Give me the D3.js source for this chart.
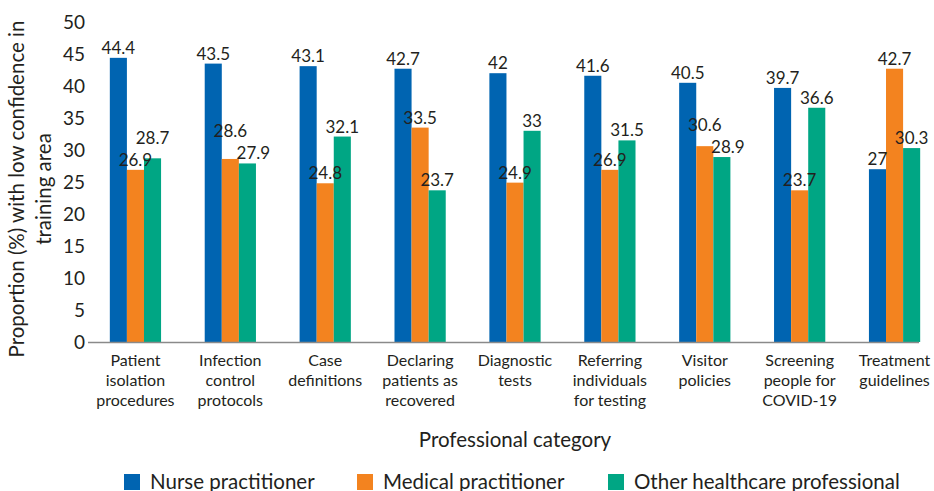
<!DOCTYPE html>
<html><head><meta charset="utf-8">
<script src="https://cdn.jsdelivr.net/npm/d3@7"></script>
<style>body{margin:0;background:#fff}svg{display:block}text{font-family:Lato,"Open Sans",sans-serif;fill:#231f20}</style>
</head><body><svg id="c" width="934" height="491"></svg>
<script>
const categories = [
  ["Patient","isolation","procedures"],
  ["Infection","control","protocols"],
  ["Case","definitions"],
  ["Declaring","patients as","recovered"],
  ["Diagnostic","tests"],
  ["Referring","individuals","for testing"],
  ["Visitor","policies"],
  ["Screening","people for","COVID-19"],
  ["Treatment","guidelines"]
];
const seriesNames = ["Nurse practitioner","Medical practitioner","Other healthcare professional"];
const nurse   = [44.4, 43.5, 43.1, 42.7, 42, 41.6, 40.5, 39.7, 27];
const medical = [26.9, 28.6, 24.8, 33.5, 24.9, 26.9, 30.6, 23.7, 42.7];
const other   = [28.7, 27.9, 32.1, 23.7, 33, 31.5, 28.9, 36.6, 30.3];
const yTicks = [0,5,10,15,20,25,30,35,40,45,50];
const colors = ["#0064b1","#f3831f","#00a684"];
const series = [nurse, medical, other];

const svg = d3.select("#c");
const keys = categories.map((c,i)=>i);
const x0 = d3.scaleBand().domain(keys).range([88, 942]).paddingInner(0.46).paddingOuter(0.23);
const x1 = d3.scaleBand().domain([0,1,2]).range([0, x0.bandwidth()]);
const y = d3.scaleLinear().domain([0,50]).range([342, 22]);

// y tick labels
const yAxis = d3.axisLeft(y).tickValues(yTicks).tickSize(0).tickPadding(0);
const ya = svg.append("g").attr("transform","translate(85,0)").call(yAxis);
ya.select(".domain").remove();
ya.selectAll("text").style("font-size","19px").attr("fill","#231f20").style("font-family","Lato,'Open Sans',sans-serif");

// bars
const groups = svg.append("g").selectAll("g").data(keys).join("g")
  .attr("transform", d => `translate(${x0(d)},0)`);
groups.selectAll("rect").data(i => series.map((s,k)=>({k, v:s[i]}))).join("rect")
  .attr("x", d => x1(d.k)).attr("width", x1.bandwidth())
  .attr("y", d => y(d.v)).attr("height", d => y(0)-y(d.v))
  .attr("fill", d => colors[d.k]);
groups.each(function(){
  const g = d3.select(this);
  const labs = g.selectAll("text").data(i => series.map((s,k)=>({k, v:s[i]}))).join("text")
    .attr("x", d => x1(d.k)+x1.bandwidth()/2).attr("y", d => y(d.v)-4)
    .attr("text-anchor","middle").style("font-size","17px").text(d => d.v);
  const nodes = labs.nodes();
  // resolve overlaps between neighbouring labels
  for (let p = 0; p < 2; p++) {
    const a = nodes[p], b = nodes[p+1];
    const ba = a.getBBox(), bb = b.getBBox();
    const xo = ba.x + ba.width > bb.x && bb.x + bb.width > ba.x;
    const yo = ba.y + ba.height > bb.y && bb.y + bb.height > ba.y;
    if (xo && yo) {
      const hi = ba.y < bb.y ? a : b, lo = hi === a ? b : a;
      const hb = hi.getBBox(), lb = lo.getBBox();
      const shift = (hb.y + hb.height) - lb.y + 1;
      hi.setAttribute("y", +hi.getAttribute("y") - shift);
      if (lo === b) lo.setAttribute("x", +lo.getAttribute("x") + 6);
    }
  }
});

// baseline
svg.append("line").attr("x1",88).attr("x2",919).attr("y1",y(0)+0.5).attr("y2",y(0)+0.5)
  .attr("stroke","#8a8a8a").attr("stroke-width",1.5);

// category labels
const cl = svg.append("g").selectAll("text").data(keys).join("text")
  .attr("x", d => x0(d)+x0.bandwidth()/2).attr("y", 366)
  .attr("text-anchor","middle").style("font-size","16px");
cl.selectAll("tspan").data(d => categories[d]).join("tspan")
  .attr("x", function(){return this.parentNode.getAttribute("x");})
  .attr("dy", (d,i)=> i===0?0:20).text(d=>d);

// x title
svg.append("text").attr("x",515).attr("y",447).attr("text-anchor","middle")
  .style("font-size","20.5px").text("Professional category");

// y title
const yt = svg.append("text").attr("transform","translate(0,189) rotate(-90)")
  .attr("text-anchor","middle").style("font-size","20.5px");
yt.append("tspan").attr("x",0).attr("y",24).text("Proportion (%) with low confidence in");
yt.append("tspan").attr("x",0).attr("y",51).text("training area");

// legend
const legX = [124, 357, 608];
const lg = svg.append("g").selectAll("g").data(seriesNames).join("g")
  .attr("transform",(d,i)=>`translate(${legX[i]},474)`);
lg.append("rect").attr("width",16).attr("height",16).attr("fill",(d,i)=>colors[i]);
lg.append("text").attr("x",26).attr("y",15).style("font-size","20.5px").text(d=>d);
</script></body></html>
